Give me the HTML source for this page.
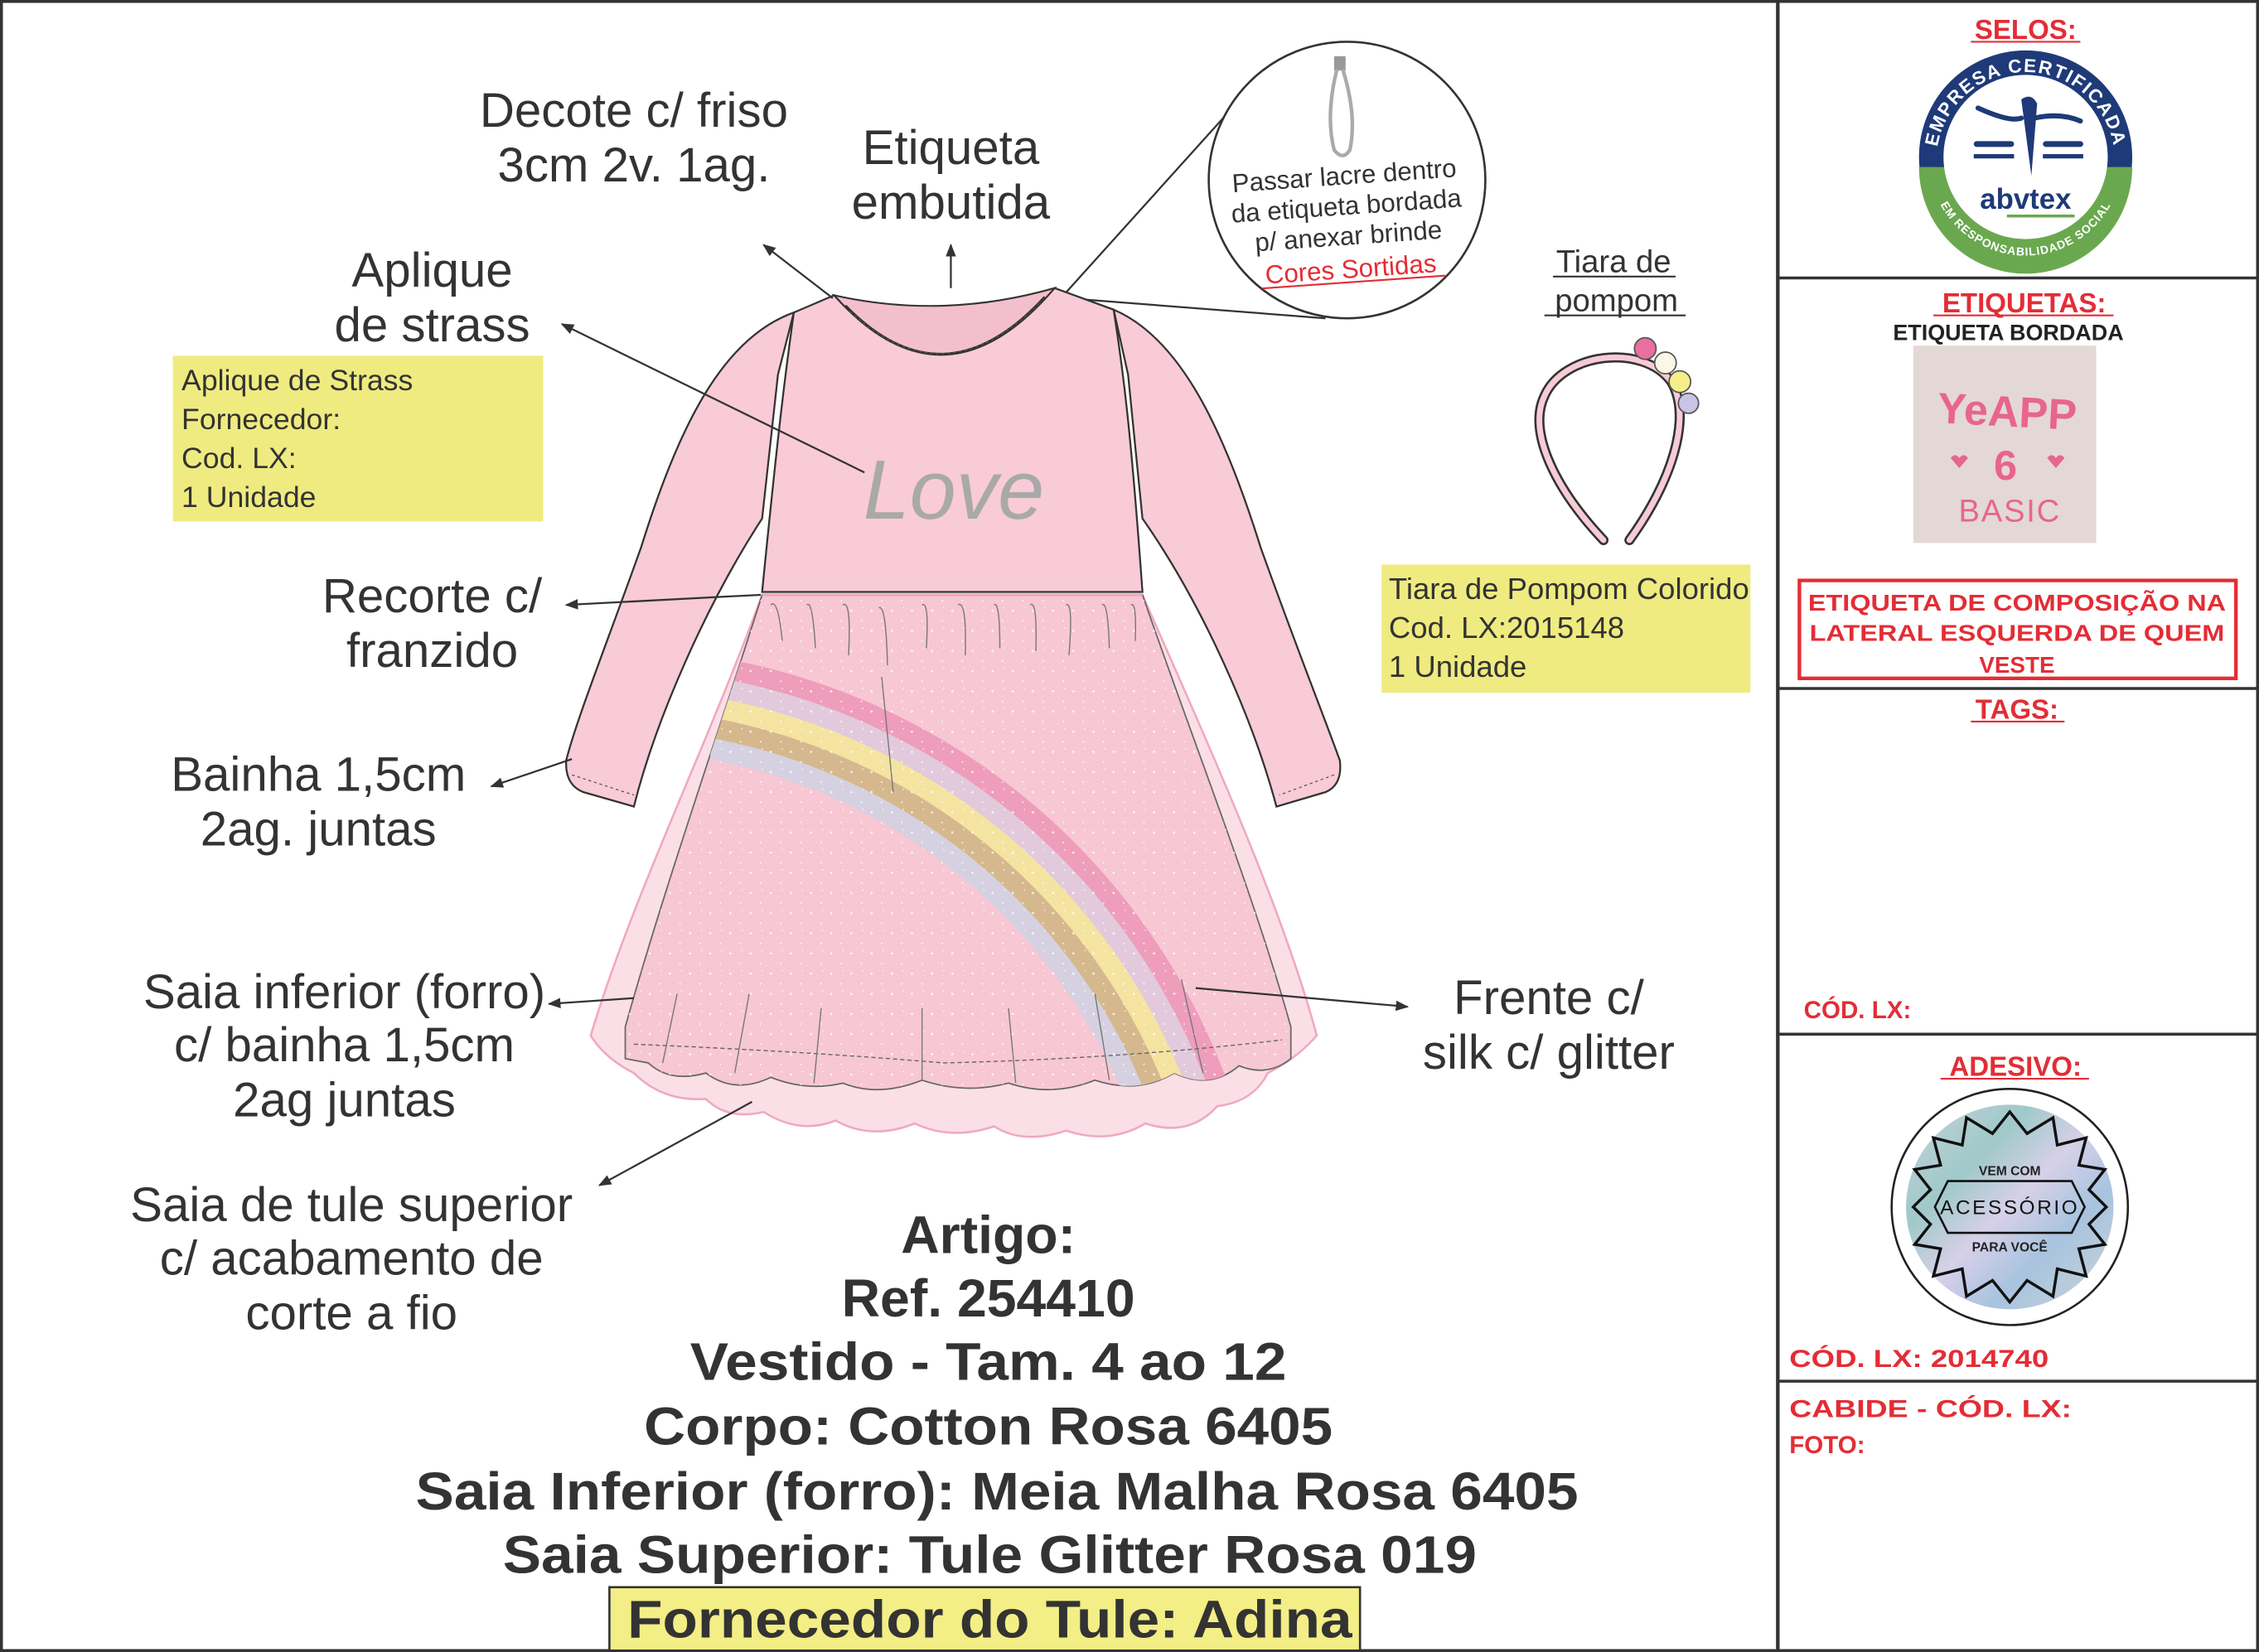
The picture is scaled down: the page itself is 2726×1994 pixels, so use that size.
<!DOCTYPE html>
<html><head><meta charset="utf-8"><style>
html,body{margin:0;padding:0;background:#fff;width:2726px;height:1994px;overflow:hidden}
svg{display:block}
text{font-family:"Liberation Sans",Arial,sans-serif}
</style></head><body>
<svg width="2726" height="1994" viewBox="0 0 1568 1147" preserveAspectRatio="none" xmlns="http://www.w3.org/2000/svg">
<defs>
<marker id="ar" viewBox="0 0 10 10" refX="9" refY="5" markerWidth="9" markerHeight="9" orient="auto-start-reverse" markerUnits="userSpaceOnUse"><path d="M0,1 L10,5 L0,9 Z" fill="#333"/></marker>
<clipPath id="forroClip"><path d="M529,413 L793,413 C830,520 870,620 896,713 L896,735 Q880,748 860,740 Q840,757 815,745 Q790,760 760,750 Q730,762 700,752 Q670,760 640,750 Q610,762 585,752 Q560,758 535,748 Q510,760 490,745 Q465,752 450,738 L434,735 L434,713 C460,620 495,520 529,413 Z"/></clipPath>
<clipPath id="rbx"><rect x="493" y="440" width="420" height="340"/></clipPath>
<pattern id="dots" width="14" height="14" patternUnits="userSpaceOnUse"><circle cx="3" cy="4" r="0.8" fill="#fff"/><circle cx="10" cy="11" r="0.6" fill="#fff"/><circle cx="11" cy="2" r="0.5" fill="#fff"/></pattern>
<linearGradient id="holo" x1="0" y1="0" x2="1" y2="1"><stop offset="0" stop-color="#c9d3dc"/><stop offset="0.3" stop-color="#9fc9c9"/><stop offset="0.5" stop-color="#d7d0e8"/><stop offset="0.7" stop-color="#a7c3df"/><stop offset="1" stop-color="#cfd6d8"/></linearGradient>
</defs>

<rect x="1" y="1" width="1566" height="1145" fill="none" stroke="#333" stroke-width="2"/>
<line x1="1234" y1="1" x2="1234" y2="1146" stroke="#333" stroke-width="2.5"/>
<line x1="1234" y1="193" x2="1567" y2="193" stroke="#333" stroke-width="2"/>
<line x1="1234" y1="478" x2="1567" y2="478" stroke="#333" stroke-width="2"/>
<line x1="1234" y1="718" x2="1567" y2="718" stroke="#333" stroke-width="2"/>
<line x1="1234" y1="959" x2="1567" y2="959" stroke="#333" stroke-width="2"/>

<g fill="#e32d35" font-weight="bold" text-anchor="middle">
<text x="1406" y="27" font-size="19">SELOS:</text>
<line x1="1368" y1="29" x2="1444" y2="29" stroke="#e32d35" stroke-width="1.2"/>
<text x="1405" y="217" font-size="19">ETIQUETAS:</text>
<line x1="1342" y1="219" x2="1467" y2="219" stroke="#e32d35" stroke-width="1.2"/>
<text x="1400" y="499" font-size="19">TAGS:</text>
<line x1="1368" y1="501" x2="1433" y2="501" stroke="#e32d35" stroke-width="1.2"/>
<text x="1399" y="747" font-size="19">ADESIVO:</text>
<line x1="1347" y1="749" x2="1450" y2="749" stroke="#e32d35" stroke-width="1.2"/>
</g>
<text x="1394" y="236" font-size="15.5" font-weight="bold" fill="#222" text-anchor="middle">ETIQUETA BORDADA</text>

<circle cx="1406" cy="109" r="74" fill="#1e3a78"/>
<path d="M1332,116 A74 74 0 0 0 1480,116 Z" fill="#6aa84f"/>
<circle cx="1406" cy="109" r="57" fill="#fff"/>
<path id="tp" d="M1344,112 A62 62 0 0 1 1468,112" fill="none"/>
<text font-size="13" font-weight="bold" fill="#fff" letter-spacing="1"><textPath href="#tp" startOffset="50%" text-anchor="middle">EMPRESA CERTIFICADA</textPath></text>
<path id="bp" d="M1340,122 A67 67 0 0 0 1472,122" fill="none"/>
<text font-size="8" font-weight="bold" fill="#fff" letter-spacing="0.6"><textPath href="#bp" startOffset="50%" text-anchor="middle">EM RESPONSABILIDADE SOCIAL</textPath></text>
<path d="M1373,75 Q1395,85 1403,82 M1412,82 Q1430,78 1444,84" stroke="#1e3a78" stroke-width="3.5" fill="none" stroke-linecap="round"/>
<path d="M1403,69 Q1410,64 1414,72 L1410,122 Z" fill="#1e3a78"/>
<rect x="1370" y="98" width="28" height="4" rx="2" fill="#1e3a78"/><rect x="1370" y="107" width="28" height="3" fill="#1e3a78"/>
<rect x="1418" y="98" width="28" height="4" rx="2" fill="#1e3a78"/><rect x="1418" y="107" width="28" height="3" fill="#1e3a78"/>
<text x="1406" y="145" font-size="20" font-weight="bold" fill="#1e3a78" text-anchor="middle">abvtex</text>
<line x1="1393" y1="150" x2="1440" y2="150" stroke="#6aa84f" stroke-width="2"/>

<rect x="1328" y="240" width="127" height="137" fill="#e3d8d5"/>
<g fill="#e9648f" font-weight="bold" text-anchor="middle">
<text x="1393" y="296" font-size="30" font-family="DejaVu Sans" transform="rotate(3 1393 290)">YeAPP</text>
<text x="1392" y="333" font-size="29">6</text>
<text x="1395" y="362" font-size="22" font-weight="normal" letter-spacing="1">BASIC</text>
</g>
<path d="M1354,318 q3,-4 6,0 q3,-4 6,0 l-6,7 z" fill="#e9648f"/>
<path d="M1421,318 q3,-4 6,0 q3,-4 6,0 l-6,7 z" fill="#e9648f"/>

<rect x="1249" y="403" width="303" height="68" fill="none" stroke="#e32d35" stroke-width="2.5"/>
<g fill="#e32d35" font-weight="bold" font-size="16" text-anchor="middle">
<text x="1400" y="424" textLength="290" lengthAdjust="spacingAndGlyphs">ETIQUETA DE COMPOSIÇÃO NA</text>
<text x="1400" y="445" textLength="288" lengthAdjust="spacingAndGlyphs">LATERAL ESQUERDA DE QUEM</text>
<text x="1400" y="467">VESTE</text>
</g>
<g fill="#e32d35" font-weight="bold" font-size="17">
<text x="1252" y="707">CÓD. LX:</text>
<text x="1242" y="949" textLength="180" lengthAdjust="spacingAndGlyphs">CÓD. LX: 2014740</text>
<text x="1242" y="984" textLength="196" lengthAdjust="spacingAndGlyphs">CABIDE - CÓD. LX:</text>
<text x="1242" y="1009">FOTO:</text>
</g>

<ellipse cx="1395" cy="838" rx="82" ry="82" fill="#fff" stroke="#222" stroke-width="1.5"/>
<ellipse cx="1395" cy="838" rx="72" ry="71" fill="url(#holo)"/>
<polygon fill="none" stroke="#111" stroke-width="2" points="1395,772 1407,787 1425,776 1428,795 1448,790 1443,809 1461,812 1450,826 1462,838 1450,850 1461,864 1443,867 1448,886 1428,881 1425,900 1407,889 1395,904 1383,889 1365,900 1362,881 1342,886 1347,867 1329,864 1340,850 1328,838 1340,826 1329,812 1347,809 1342,790 1362,795 1365,776 1383,787"/>
<polygon fill="none" stroke="#111" stroke-width="1.5" points="1352,820 1438,820 1447,838 1438,856 1352,856 1343,838"/>
<text x="1395" y="816" font-size="9" font-weight="bold" fill="#222" text-anchor="middle" font-family="Liberation Serif">VEM COM</text>
<text x="1395" y="843" font-size="14" fill="#111" text-anchor="middle" letter-spacing="1.5" font-family="DejaVu Sans Mono">ACESSÓRIO</text>
<text x="1395" y="869" font-size="9" font-weight="bold" fill="#222" text-anchor="middle" font-family="Liberation Serif">PARA VOCÊ</text>

<line x1="740" y1="203" x2="858" y2="72" stroke="#333" stroke-width="1.3"/>
<line x1="740" y1="207" x2="920" y2="221" stroke="#333" stroke-width="1.3"/>
<circle cx="935" cy="125" r="96" fill="#fff" stroke="#333" stroke-width="1.5"/>
<rect x="926" y="39" width="8" height="10" fill="#999"/>
<path d="M928,48 Q920,80 926,104 Q932,112 937,104 Q942,80 932,48" fill="none" stroke="#aaa" stroke-width="2.5"/>
<g transform="rotate(-4 935 150)" font-size="18" fill="#333" text-anchor="middle">
<text x="935" y="128">Passar lacre dentro</text>
<text x="935" y="149">da etiqueta bordada</text>
<text x="935" y="170">p/ anexar brinde</text>
<text x="935" y="193" fill="#e32d35">Cores Sortidas</text>
<line x1="873" y1="196" x2="1000" y2="196" stroke="#e32d35" stroke-width="1.2"/>
</g>

<text x="1120" y="189" font-size="22" fill="#333" text-anchor="middle">Tiara de</text>
<line x1="1078" y1="192" x2="1163" y2="192" stroke="#333" stroke-width="1.2"/>
<text x="1122" y="216" font-size="22" fill="#333" text-anchor="middle">pompom</text>
<line x1="1072" y1="219" x2="1170" y2="219" stroke="#333" stroke-width="1.2"/>
<path d="M1113,375 C1080,340 1060,300 1072,275 C1085,245 1140,238 1160,265 C1175,290 1160,335 1131,375" fill="none" stroke="#333" stroke-width="7" stroke-linecap="round"/>
<path d="M1113,375 C1080,340 1060,300 1072,275 C1085,245 1140,238 1160,265 C1175,290 1160,335 1131,375" fill="none" stroke="#f7cbd6" stroke-width="4" stroke-linecap="round"/>
<circle cx="1142" cy="242" r="7.5" fill="#e86fa0" stroke="#555"/>
<circle cx="1156" cy="252" r="7.5" fill="#fbf6e6" stroke="#555"/>
<circle cx="1166" cy="265" r="7.5" fill="#f4ee8a" stroke="#555"/>
<circle cx="1172" cy="280" r="7" fill="#c9c4e6" stroke="#555"/>
<rect x="959" y="392" width="256" height="89" fill="#efeb80"/>
<g font-size="21" fill="#333"><text x="964" y="416">Tiara de Pompom Colorido</text><text x="964" y="443">Cod. LX:2015148</text><text x="964" y="470">1 Unidade</text></g>

<rect x="120" y="247" width="257" height="115" fill="#efeb80"/>
<g font-size="20.5" fill="#333"><text x="126" y="271">Aplique de Strass</text><text x="126" y="298">Fornecedor:</text><text x="126" y="325">Cod. LX:</text><text x="126" y="352">1 Unidade</text></g>

<g font-size="33.5" fill="#333" text-anchor="middle">
<text x="440" y="88">Decote c/ friso</text><text x="440" y="126">3cm 2v. 1ag.</text>
<text x="660" y="114">Etiqueta</text><text x="660" y="152">embutida</text>
<text x="300" y="199">Aplique</text><text x="300" y="237">de strass</text>
<text x="300" y="425">Recorte c/</text><text x="300" y="463">franzido</text>
<text x="221" y="549">Bainha 1,5cm</text><text x="221" y="587">2ag. juntas</text>
<text x="239" y="700">Saia inferior (forro)</text><text x="239" y="737">c/ bainha 1,5cm</text><text x="239" y="775">2ag juntas</text>
<text x="244" y="848">Saia de tule superior</text><text x="244" y="885">c/ acabamento de</text><text x="244" y="923">corte a fio</text>
<text x="1075" y="704">Frente c/</text><text x="1075" y="742">silk c/ glitter</text>
</g>

<path d="M529,413 L793,413 C840,520 890,630 914,719 Q900,735 880,745 Q870,765 845,768 Q825,790 795,780 Q770,795 740,785 Q710,795 690,782 Q660,792 635,780 Q605,792 580,778 Q555,788 530,772 Q505,778 490,763 Q460,765 440,745 Q420,735 410,719 C440,620 490,520 529,413 Z" fill="#fbdfe7" stroke="#f0a9c1" stroke-width="1.5"/>
<path d="M529,413 L793,413 C830,520 870,620 896,713 L896,735 Q880,748 860,740 Q840,757 815,745 Q790,760 760,750 Q730,762 700,752 Q670,760 640,750 Q610,762 585,752 Q560,758 535,748 Q510,760 490,745 Q465,752 450,738 L434,735 L434,713 C460,620 495,520 529,413 Z" fill="#f7c7d4" stroke="#666" stroke-width="1"/>
<g clip-path="url(#forroClip)"><g clip-path="url(#rbx)" fill="none" stroke-width="14.5">
<circle cx="420" cy="910" r="453" stroke="#ee9dbb"/>
<circle cx="420" cy="910" r="439" stroke="#e2cadc"/>
<circle cx="420" cy="910" r="425" stroke="#f5e3a2"/>
<circle cx="420" cy="910" r="411" stroke="#d6b88e"/>
<circle cx="420" cy="910" r="397" stroke="#d5d1e1"/>
</g><rect x="400" y="400" width="520" height="400" fill="url(#dots)" opacity="0.8"/></g>
<path d="M440,725 Q560,730 655,738 Q780,735 890,722" fill="none" stroke="#666" stroke-width="0.8" stroke-dasharray="3,2"/>
<path d="M520,690 L510,745 M570,700 L565,752 M640,700 L640,750 M700,700 L705,752 M760,690 L770,750 M820,680 L835,745 M470,690 L460,738" stroke="#777" stroke-width="0.8" fill="none"/>
<path d="M535,420 q5,-5 8,25 M560,420 q4,-4 6,30 M585,420 q6,-4 4,35 M610,422 q5,-3 6,40 M612,470 l8,80 M640,420 q5,-3 3,30 M665,420 q6,-4 5,35 M690,420 q4,-3 4,30 M715,420 q5,-4 4,32 M740,420 q5,-3 2,35 M765,420 q4,-3 5,30 M785,420 q4,-3 3,25" stroke="#777" stroke-width="0.8" fill="none"/>
<path d="M551,217 C500,235 470,300 445,380 C420,450 400,500 393,528 Q392,545 405,550 L440,560 C455,500 490,420 529,360 L540,260 Z" fill="#f8cbd7" stroke="#333" stroke-width="1.3"/>
<path d="M773,215 C820,235 850,300 875,380 C900,450 920,500 930,528 Q932,545 920,550 L886,560 C870,500 835,420 793,360 L783,260 Z" fill="#f8cbd7" stroke="#333" stroke-width="1.3"/>
<path d="M397,538 L440,552 M926,538 L888,552" stroke="#555" stroke-width="0.7" stroke-dasharray="2,2"/>
<path d="M579,205 L551,217 C545,260 540,300 529,411 L793,411 C785,300 780,260 773,215 L732,200 Q655,290 579,205 Z" fill="#f8cbd7" stroke="#333" stroke-width="1.3"/>
<path d="M579,205 Q655,222 732,200 Q655,290 579,205 Z" fill="#f4bfcd" stroke="#333" stroke-width="1.2"/>
<path d="M587,212 Q655,282 725,206" fill="none" stroke="#333" stroke-width="1.2"/>
<path d="M590,216 Q655,278 722,210" fill="none" stroke="#555" stroke-width="0.7" stroke-dasharray="2,2"/>
<line x1="529" y1="413" x2="793" y2="413" stroke="#f0a9c1" stroke-width="2"/>
<text x="662" y="360" font-size="58" font-style="italic" fill="#a9a9a9" text-anchor="middle" font-family="Liberation Serif">Love</text>

<g stroke="#333" stroke-width="1.3" fill="none">
<line x1="578" y1="207" x2="530" y2="170" marker-end="url(#ar)"/>
<line x1="660" y1="200" x2="660" y2="170" marker-end="url(#ar)"/>
<line x1="600" y1="328" x2="390" y2="225" marker-end="url(#ar)"/>
<line x1="528" y1="413" x2="393" y2="420" marker-end="url(#ar)"/>
<line x1="397" y1="527" x2="341" y2="546" marker-end="url(#ar)"/>
<line x1="440" y1="693" x2="381" y2="697" marker-end="url(#ar)"/>
<line x1="522" y1="765" x2="416" y2="823" marker-end="url(#ar)"/>
<line x1="830" y1="686" x2="977" y2="699" marker-end="url(#ar)"/>
</g>

<rect x="423" y="1102" width="521" height="44" fill="#f3ee85" stroke="#333" stroke-width="1.5"/>
<g font-size="37" font-weight="bold" fill="#333" text-anchor="middle">
<text x="686" y="870">Artigo:</text>
<text x="686" y="914">Ref. 254410</text>
<text x="686" y="958" textLength="414" lengthAdjust="spacingAndGlyphs">Vestido - Tam. 4 ao 12</text>
<text x="686" y="1003" textLength="478" lengthAdjust="spacingAndGlyphs">Corpo: Cotton Rosa 6405</text>
<text x="692" y="1048" textLength="807" lengthAdjust="spacingAndGlyphs">Saia Inferior (forro): Meia Malha Rosa 6405</text>
<text x="687" y="1092" textLength="676" lengthAdjust="spacingAndGlyphs">Saia Superior: Tule Glitter Rosa 019</text>
<text x="687" y="1137" textLength="503" lengthAdjust="spacingAndGlyphs">Fornecedor do Tule: Adina</text>
</g>
</svg>
</body></html>
